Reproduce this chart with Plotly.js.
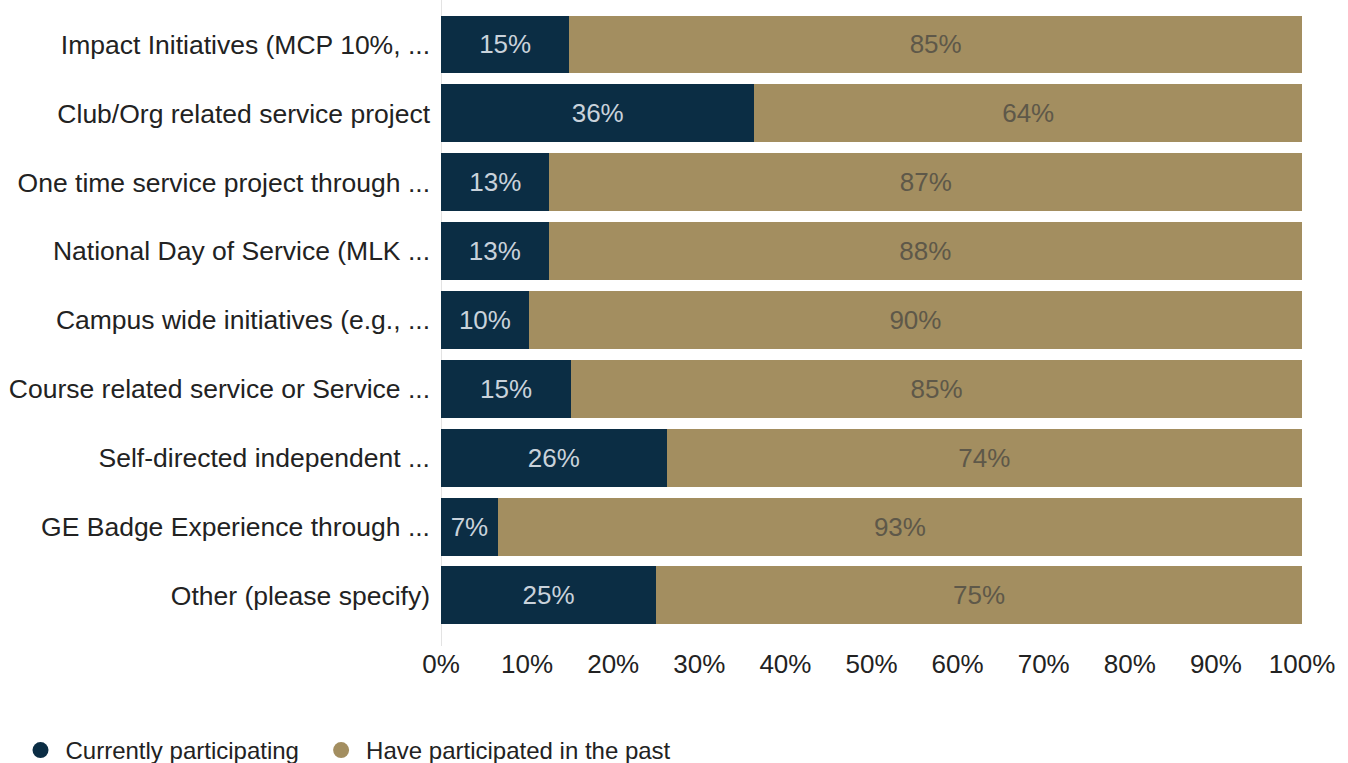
<!DOCTYPE html>
<html>
<head>
<meta charset="utf-8">
<script src="https://cdn.plot.ly/plotly-3.0.1.min.js"></script>
<style>html,body{margin:0;padding:0;background:#fff;}#chart{width:1348px;height:763px;}</style>
</head>
<body>
<div id="chart"></div>
<script>
var categories = [
  "Impact Initiatives (MCP 10%, ...",
  "Club/Org related service project",
  "One time service project through ...",
  "National Day of Service (MLK ...",
  "Campus wide initiatives (e.g., ...",
  "Course related service or Service ...",
  "Self-directed independent ...",
  "GE Badge Experience through ...",
  "Other (please specify)"
];
var currentlyParticipating = [14.9, 36.4, 12.6, 12.5, 10.2, 15.1, 26.2, 6.6, 25.0];
var pastParticipation = [85.1, 63.6, 87.4, 87.5, 89.8, 84.9, 73.8, 93.4, 75.0];
var seriesNames = ["Currently participating", "Have participated in the past"];
var xTickVals = [0, 10, 20, 30, 40, 50, 60, 70, 80, 90, 100];
var xTickText = ["0%", "10%", "20%", "30%", "40%", "50%", "60%", "70%", "80%", "90%", "100%"];

var navy = "#0b2d44";
var gold = "#a38e60";
var fontFam = "Liberation Sans, Arial, sans-serif";

var traces = [
  {
    type: "bar", orientation: "h", y: categories, x: currentlyParticipating,
    name: seriesNames[0], showlegend: false,
    marker: {color: navy},
    texttemplate: "%{x:.0f}%", textposition: "inside", insidetextanchor: "middle",
    constraintext: "none",
    textfont: {family: fontFam, size: 26, color: "#c9d2db"}, hoverinfo: "x+y"
  },
  {
    type: "bar", orientation: "h", y: categories, x: pastParticipation,
    name: seriesNames[1], showlegend: false,
    marker: {color: gold},
    texttemplate: "%{x:.0f}%", textposition: "inside", insidetextanchor: "middle",
    constraintext: "none",
    textfont: {family: fontFam, size: 26, color: "#5e5849"}, hoverinfo: "x+y"
  },
  {
    type: "scatter", mode: "markers", x: [null], y: [null], name: seriesNames[0],
    marker: {color: navy, size: 20, symbol: "circle"}, showlegend: true, legend: "legend"
  },
  {
    type: "scatter", mode: "markers", x: [null], y: [null], name: seriesNames[1],
    marker: {color: gold, size: 20, symbol: "circle"}, showlegend: true, legend: "legend2"
  }
];

var legendBase = {
  orientation: "h", xref: "container", yref: "container",
  xanchor: "left", y: 0.0459, yanchor: "top",
  font: {family: fontFam, size: 24, color: "#222"},
  itemwidth: 40, bgcolor: "rgba(0,0,0,0)"
};

var layout = {
  width: 1348, height: 763,
  margin: {l: 441, r: 46, t: 0, b: 117, autoexpand: false},
  barmode: "stack",
  bargap: 0.158,
  paper_bgcolor: "#fff", plot_bgcolor: "#fff",
  font: {family: fontFam, size: 26, color: "#222"},
  xaxis: {
    range: [0, 100], tickvals: xTickVals, ticktext: xTickText,
    showgrid: false, zeroline: false, showline: false, ticks: "",
    tickfont: {family: fontFam, size: 26, color: "#222"}, fixedrange: true
  },
  yaxis: {
    type: "category", categoryorder: "array", categoryarray: categories,
    range: [8.734, -0.646], showgrid: false, zeroline: false, ticks: "",
    ticklabelstandoff: 10,
    tickfont: {family: fontFam, size: 26.5, color: "#222"}, fixedrange: true
  },
  shapes: [{type: "line", xref: "x", yref: "paper", x0: 0, x1: 0, y0: 0, y1: 1,
            line: {color: "#e3e3e3", width: 2}, layer: "below"}],
  legend: Object.assign({}, legendBase, {x: 0.0115}),
  legend2: Object.assign({}, legendBase, {x: 0.2345}),
  showlegend: true
};

Plotly.newPlot("chart", traces, layout, {displayModeBar: false, staticPlot: true});
</script>
</body>
</html>
